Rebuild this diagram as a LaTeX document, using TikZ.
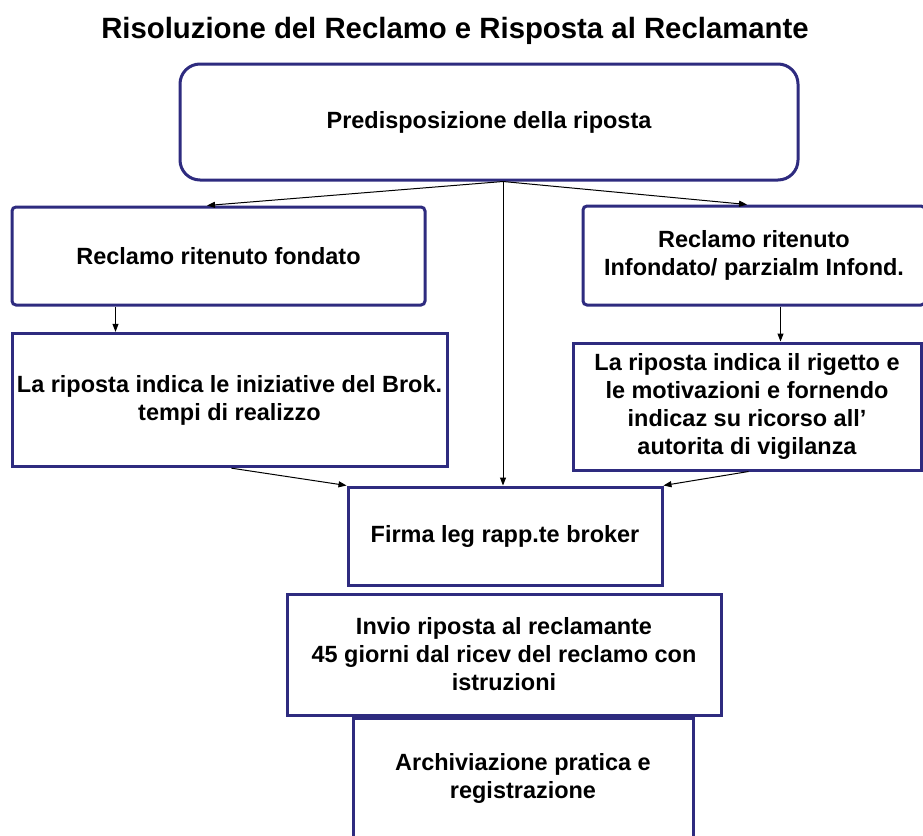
\documentclass[tikz,border=0pt]{standalone}
\usepackage{fontspec}
\setmainfont{Liberation Sans}
\usetikzlibrary{arrows.meta,calc}
\definecolor{navy}{HTML}{2E2B7F}
\begin{document}
\begin{tikzpicture}[x=0.75pt,y=-0.75pt,
  box/.style={draw=navy,line width=2.25pt,align=center,fill=white,
    font=\bfseries\fontsize{17.6}{21}\selectfont,inner sep=2pt},
  arr/.style={-{Triangle[length=6pt,width=4.5pt]},line width=0.75pt,black}]
\useasboundingbox (0,0) rectangle (923,835);
\clip (0,0) rectangle (923,835);
\node[anchor=base,font=\bfseries\fontsize{22}{26}\selectfont] (title) at (455,38)
  {Risoluzione del Reclamo e Risposta al Reclamante};
\node[box,rounded corners=15pt,minimum width=463.5pt,minimum height=87pt] (top) at (489,122)
  {Predisposizione della riposta};
\node[box,rounded corners=3pt,minimum width=309.75pt,minimum height=73.5pt] (L1) at (218.5,256)
  {Reclamo ritenuto fondato};
\node[box,minimum width=326.25pt,minimum height=100pt] (L2) at (229.5,400)
  {La riposta indica le iniziative del Brok.\\tempi di realizzo};
\node[box,rounded corners=3pt,minimum width=256.5pt,minimum height=74.25pt] (R1) at (754,255.5)
  {Reclamo ritenuto\\Infondato/ parzialm Infond.};
\node[box,minimum width=261pt,minimum height=95.25pt] (R2) at (747,406.5)
  {La riposta indica il rigetto e\\le motivazioni e fornendo\\indicaz su ricorso all'\\autorita di vigilanza};
\node[box,minimum width=235.5pt,minimum height=73.5pt] (firma) at (505,536)
  {Firma leg rapp.te broker};
\node[box,minimum width=325.5pt,minimum height=90.75pt] (invio) at (504,654.5)
  {Invio riposta al reclamante\\45 giorni dal ricev del reclamo con\\istruzioni};
\node[box,minimum width=255pt,minimum height=90pt] (arch) at (523,778)
  {Archiviazione pratica e\\registrazione};
% connectors
\coordinate (t) at ($(top.south)+(14,0)$);
\draw[arr] (t) -- ($(L1.north)+(-11.5,0)$);
\draw[arr] (t) -- ($(R1.north)+(-7,0)$);
\draw[arr] (t) -- (t |- firma.north);
\coordinate (l1s) at ($(L1.south west)+(105,0)$);
\draw[arr] (l1s) -- (l1s |- L2.north);
\coordinate (r1s) at ($(R1.south west)+(199,0)$);
\draw[arr] (r1s) -- (r1s |- R2.north);
\draw[arr] ($(L2.south west)+(221,0)$) -- (firma.north west);
\draw[arr] ($(R2.south west)+(177,0)$) -- (firma.north east);
\end{tikzpicture}
\end{document}
